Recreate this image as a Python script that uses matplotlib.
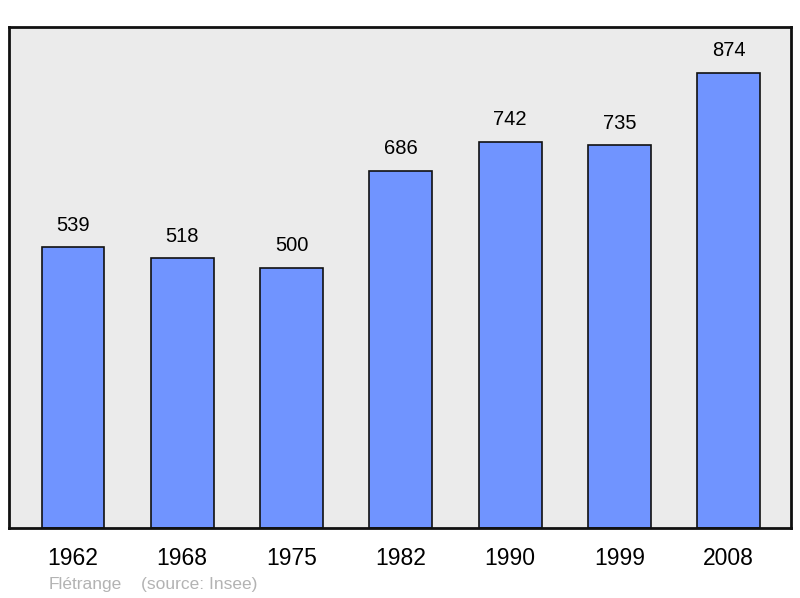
import matplotlib.pyplot as plt

# population data
years = ['1962', '1968', '1975', '1982', '1990', '1999', '2008']
population = [539, 518, 500, 686, 742, 735, 874]

plt.rcParams['font.family'] = ['Liberation Sans', 'DejaVu Sans']

fig = plt.figure(figsize=(8, 5.98), dpi=100)
ax = fig.add_axes([9 / 800, 1 - 528 / 598, 782 / 800, 501 / 598])
ax.set_facecolor('#ebebeb')

x = range(len(years))
ax.bar(x, population, width=0.575, color='#7094ff', edgecolor='#111111', linewidth=1.2)

for xi, v in zip(x, population):
    ax.text(xi, v + 24, str(v), ha='center', va='bottom', fontsize=14.5)

ax.set_xlim(-0.585, 6.57)
ax.set_ylim(0, 962)
ax.set_xticks(list(x))
ax.set_xticklabels(years, fontsize=16.5)
ax.tick_params(axis='x', length=0, pad=14)
ax.set_yticks([])
for s in ax.spines.values():
    s.set_linewidth(2)
    s.set_color('#111111')

fig.text(49 / 800, 1 - 584 / 598, 'Flétrange', fontsize=12.5,
         color='#b3b3b3', va='center', ha='left')
fig.text(141 / 800, 1 - 584 / 598, '(source: Insee)', fontsize=12.5,
         color='#b3b3b3', va='center', ha='left')

fig.savefig('out.png', dpi=100)
